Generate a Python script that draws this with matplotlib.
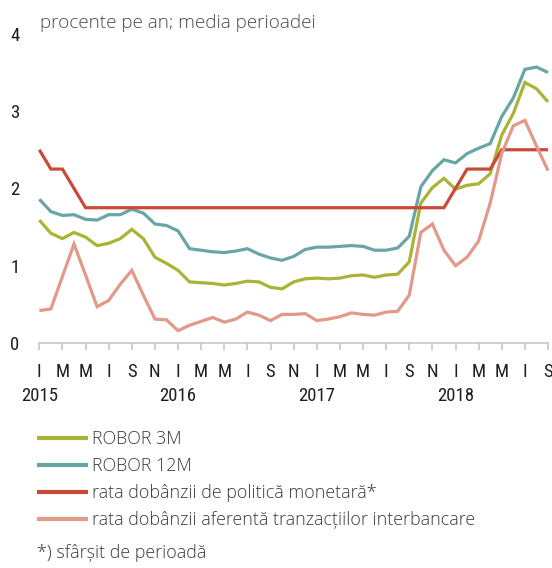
import matplotlib
matplotlib.use("Agg")
import matplotlib.pyplot as plt
from matplotlib import font_manager as fm

# ---------------- data ----------------
month_labels = ["I", "M", "M", "I", "S", "N"] * 3 + ["I", "M", "M", "I", "S"]
year_labels = ["2015", "2016", "2017", "2018"]
year_month_index = [0, 12, 24, 36]

robor_3m = [1.59, 1.42, 1.35, 1.43, 1.37, 1.26, 1.29, 1.35, 1.47, 1.35, 1.11, 1.03,
            0.94, 0.79, 0.78, 0.77, 0.75, 0.77, 0.80, 0.79, 0.72, 0.70, 0.79, 0.83,
            0.84, 0.83, 0.84, 0.87, 0.88, 0.85, 0.88, 0.89, 1.05, 1.81, 2.01, 2.13,
            1.99, 2.04, 2.06, 2.19, 2.69, 2.97, 3.37, 3.29, 3.12]
robor_12m = [1.86, 1.70, 1.65, 1.66, 1.60, 1.59, 1.66, 1.66, 1.73, 1.68, 1.54, 1.52,
             1.45, 1.22, 1.20, 1.18, 1.17, 1.19, 1.22, 1.15, 1.10, 1.07, 1.12, 1.21,
             1.24, 1.24, 1.25, 1.26, 1.25, 1.20, 1.20, 1.23, 1.38, 2.02, 2.23, 2.37,
             2.33, 2.45, 2.52, 2.58, 2.93, 3.17, 3.54, 3.57, 3.50]
policy_rate = [2.50, 2.25, 2.25, 2.00, 1.75, 1.75, 1.75, 1.75, 1.75, 1.75, 1.75, 1.75,
               1.75, 1.75, 1.75, 1.75, 1.75, 1.75, 1.75, 1.75, 1.75, 1.75, 1.75, 1.75,
               1.75, 1.75, 1.75, 1.75, 1.75, 1.75, 1.75, 1.75, 1.75, 1.75, 1.75, 1.75,
               2.00, 2.25, 2.25, 2.25, 2.50, 2.50, 2.50, 2.50, 2.50]
interbank = [0.42, 0.44, 0.86, 1.28, 0.88, 0.47, 0.55, 0.76, 0.94, 0.62, 0.31, 0.30,
             0.16, 0.23, 0.28, 0.33, 0.27, 0.31, 0.40, 0.36, 0.29, 0.37, 0.37, 0.38,
             0.29, 0.31, 0.34, 0.39, 0.37, 0.36, 0.40, 0.41, 0.62, 1.43, 1.54, 1.20,
             1.00, 1.11, 1.32, 1.81, 2.45, 2.81, 2.88, 2.55, 2.23]

series_names = ["ROBOR 3M", "ROBOR 12M", "rata dobânzii de politică monetară*",
                "rata dobânzii aferentă tranzacțiilor interbancare"]
title_text = "procente pe an; media perioadei"
footnote_text = "*) sfârșit de perioadă"
yticks = [0, 1, 2, 3, 4]

# ---------------- fonts ----------------
available = {f.name for f in fm.fontManager.ttflist}
def pick(cands, default="DejaVu Sans"):
    for c in cands:
        if c in available:
            return c
    return default

text_font = pick(["Open Sans", "Lato", "Noto Sans"])
narrow_font = pick(["Liberation Sans Narrow", "Roboto Condensed", "Open Sans Condensed",
                    "DejaVu Sans Condensed", "Roboto"])

colors = ["#AAB434", "#68A6A6", "#C94A38", "#E19A8A"]
text_color = "#3a3a3a"
tick_color = "#1e1e1e"
tick_fs = 13.5

fig = plt.figure(figsize=(5.52, 5.68), dpi=100)
ax = fig.add_axes([39.3 / 552, 1 - 343 / 568, 508.7 / 552, 309.2 / 568])

x = list(range(len(robor_3m)))
all_series = [robor_3m, robor_12m, policy_rate, interbank]
handles = []
for vals, col, name in zip(all_series, colors, series_names):
    (ln,) = ax.plot(x, vals, color=col, lw=2.3, label=name, clip_on=False,
                    solid_joinstyle="miter", solid_capstyle="butt")
    handles.append(ln)

ax.set_xlim(0, len(robor_3m) - 1)
ax.set_ylim(0, 4)

for s in ["top", "right", "left"]:
    ax.spines[s].set_visible(False)
ax.spines["bottom"].set_color("#C8C8C8")
ax.spines["bottom"].set_linewidth(1.2)

ax.set_xticks(list(range(0, len(robor_3m), 2)))
ax.set_xticklabels(month_labels, fontfamily=narrow_font, fontsize=tick_fs, color=tick_color)
ax.tick_params(axis="x", length=5, width=1.2, color="#C8C8C8", pad=9.5)

ax.set_yticks(yticks)
ax.set_yticklabels([str(v) for v in yticks], fontfamily=narrow_font, fontsize=tick_fs,
                   color=tick_color)
for lbl in ax.get_yticklabels():
    lbl.set_horizontalalignment("center")
ax.tick_params(axis="y", length=0, pad=17.5)

for yl, mi in zip(year_labels, year_month_index):
    ax.text(mi, -0.172, yl, transform=ax.get_xaxis_transform(), ha="center", va="center",
            fontfamily=narrow_font, fontsize=tick_fs, color=tick_color)

fig.text(40 / 552, 1 - 23 / 568, title_text, ha="left", va="center",
         fontfamily=text_font, fontweight="light", fontsize=13.6, color="#4a4a4a")

leg = fig.legend(handles=handles, loc="upper left",
                 bbox_to_anchor=(37 / 552, 1 - 430 / 568),
                 frameon=False,
                 prop={"family": text_font, "size": 12.9, "weight": "light"},
                 handlelength=2.85, handletextpad=0.22, labelspacing=0.5,
                 borderaxespad=0, borderpad=0)
for t in leg.get_texts():
    t.set_color(text_color)
for h in leg.legend_handles:
    h.set_linewidth(3.0)

fig.text(37 / 552, 1 - 553 / 568, footnote_text, ha="left", va="center",
         fontfamily=text_font, fontweight="light", fontsize=12.9, color=text_color)

fig.savefig("out.png", dpi=100)
